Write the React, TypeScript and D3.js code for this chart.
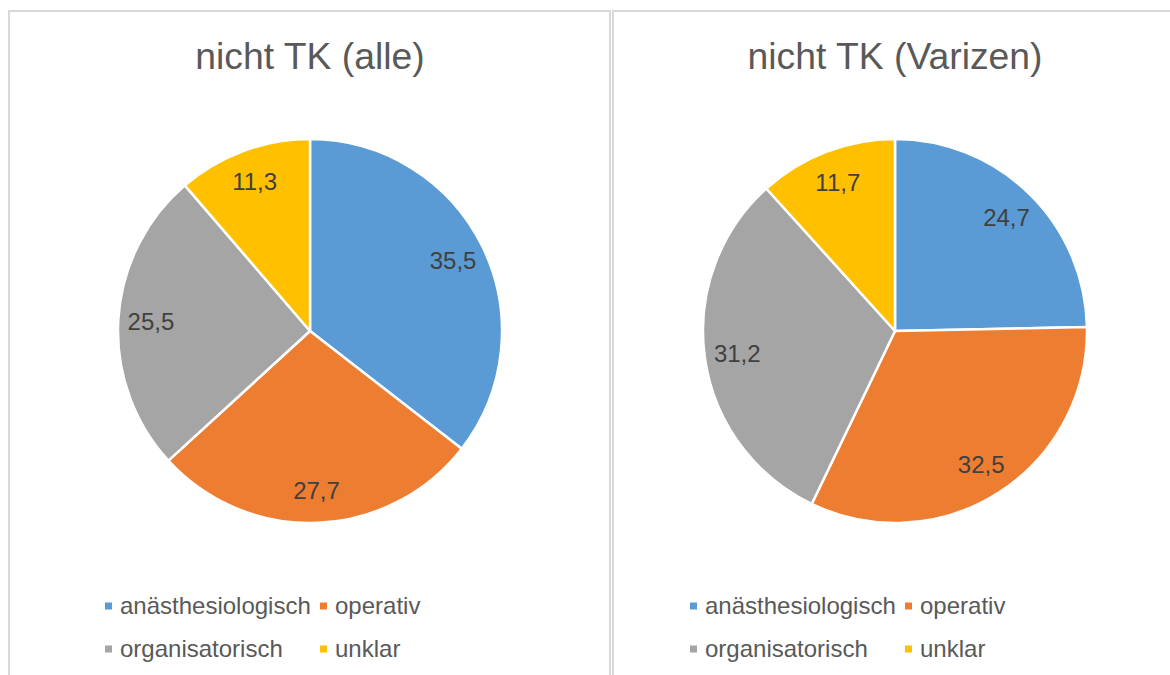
import React, { useEffect, useRef } from 'react';
import * as d3 from 'd3';

const categories = ['anästhesiologisch', 'operativ', 'organisatorisch', 'unklar'];
const colors = ['#5B9BD5', '#ED7D31', '#A5A5A5', '#FFC000'];
const titles = ['nicht TK (alle)', 'nicht TK (Varizen)'];
const valuesAlle = [35.5, 27.7, 25.5, 11.3];
const valuesVarizen = [24.7, 32.5, 31.2, 11.7];

const FONT = '"Liberation Sans", Arial, sans-serif';

const App = () => {
  const svgRef = useRef<SVGSVGElement | null>(null);

  useEffect(() => {
    const svg = d3.select(svgRef.current);
    svg.selectAll('*').remove();

    const radius = 192;
    const panels = [
      { x: 9, cx: 310, values: valuesAlle, title: titles[0] },
      { x: 613, cx: 895, values: valuesVarizen, title: titles[1] },
    ];

    const pie = d3.pie<number>().sort(null).value(d => d);
    const arc = d3.arc<d3.PieArcDatum<number>>().innerRadius(0).outerRadius(radius);
    const labelArc = d3.arc<d3.PieArcDatum<number>>()
      .innerRadius(radius * 0.83)
      .outerRadius(radius * 0.83);

    panels.forEach(p => {
      // panel frame
      svg.append('rect')
        .attr('x', p.x)
        .attr('y', 11)
        .attr('width', 601)
        .attr('height', 700)
        .attr('fill', '#fff')
        .attr('stroke', '#d9d9d9')
        .attr('stroke-width', 2);

      svg.append('text')
        .attr('x', p.cx)
        .attr('y', 69)
        .attr('text-anchor', 'middle')
        .style('font-family', FONT)
        .style('font-size', '37.3px')
        .attr('fill', '#595959')
        .text(p.title);

      const g = svg.append('g').attr('transform', `translate(${p.cx},331)`);
      const arcs = pie(p.values);

      g.selectAll('path')
        .data(arcs)
        .join('path')
        .attr('d', arc)
        .attr('fill', (d, i) => colors[i])
        .attr('stroke', '#fff')
        .attr('stroke-width', 2.5)
        .attr('stroke-linejoin', 'round');

      g.selectAll('text')
        .data(arcs)
        .join('text')
        .attr('transform', d => `translate(${labelArc.centroid(d)})`)
        .attr('text-anchor', 'middle')
        .attr('dy', '0.35em')
        .style('font-family', FONT)
        .style('font-size', '24px')
        .attr('fill', '#404040')
        .text(d => d3.format('.1f')(d.data).replace('.', ','));

      // legend, 2 x 2
      const lx = p.cx - 205;
      categories.forEach((c, i) => {
        const col = i % 2;
        const row = Math.floor(i / 2);
        const x = lx + col * 215;
        const y = 606 + row * 43;
        svg.append('rect')
          .attr('x', x)
          .attr('y', y - 3.5)
          .attr('width', 7)
          .attr('height', 7)
          .attr('fill', colors[i]);
        svg.append('text')
          .attr('x', x + 15)
          .attr('y', y)
          .attr('dy', '0.35em')
          .style('font-family', FONT)
          .style('font-size', '24px')
          .attr('fill', '#595959')
          .text(c);
      });
    });
  }, []);

  return (
    <div style={{ position: 'absolute', left: 0, top: 0, width: 1170, height: 675, overflow: 'hidden', background: '#fff' }}>
      <svg ref={svgRef} width={1170} height={675} viewBox="0 0 1170 675" />
    </div>
  );
};

export default App;
